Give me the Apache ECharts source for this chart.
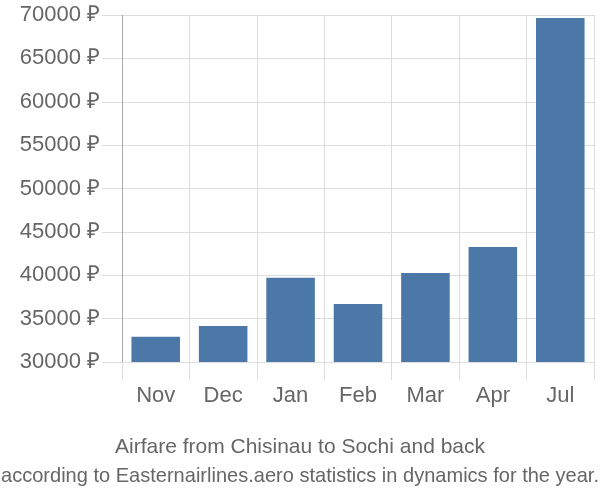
<!DOCTYPE html>
<html><head><meta charset="utf-8">
<script src="https://cdn.jsdelivr.net/npm/echarts@6/dist/echarts.min.js"></script>
<style>html,body{margin:0;padding:0;background:#fff}#c{width:600px;height:500px}</style>
</head><body><div id="c"></div>
<script>
const categories = ['Nov','Dec','Jan','Feb','Mar','Apr','Jul'];
const prices = [32900, 34150, 39700, 36700, 40250, 43250, 69650];
const titleText = 'Airfare from Chisinau to Sochi and back';
const subtitleText = 'according to Easternairlines.aero statistics in dynamics for the year.';

const subFont = '21px "Liberation Sans"';
const cv = document.createElement('canvas').getContext('2d');
cv.font = subFont;
const subScale = Math.min(1, 598 / cv.measureText(subtitleText).width);

const chart = echarts.init(document.getElementById('c'), null, {renderer:'canvas'});
chart.setOption({
  animation: false,
  title: {
    text: titleText,
    left: 'center', top: 432,
    textStyle: {fontFamily: 'Liberation Sans', fontSize: 21, fontWeight: 'normal', color: '#666'}
  },
  grid: {left: 122, right: 6, top: 15, bottom: 138},
  xAxis: {
    type: 'category', data: categories,
    axisLine: {show: false},
    axisTick: {show: true, length: 18, lineStyle: {color: '#ddd'}},
    splitLine: {show: true, lineStyle: {color: '#ddd'}},
    axisLabel: {fontFamily: 'Liberation Sans', fontSize: 22, color: '#666', margin: 23}
  },
  yAxis: {
    type: 'value', min: 30000, max: 70000, interval: 5000,
    axisLine: {show: true, lineStyle: {color: '#aaa'}},
    axisTick: {show: true, length: 20, lineStyle: {color: '#ddd'}},
    splitLine: {show: true, lineStyle: {color: '#ddd'}},
    axisLabel: {fontFamily: 'Liberation Sans', fontSize: 22, color: '#666', margin: 22,
      formatter: v => v + ' ₽'}
  },
  series: [{
    type: 'bar', data: prices, barCategoryGap: '28%',
    itemStyle: {color: '#4c78a8'}
  }]
});
const rect = chart.getModel().getComponent('grid').coordinateSystem.getRect();
chart.setOption({
  graphic: [{
    type: 'text', x: 300, y: 476, scaleX: subScale,
    style: {text: subtitleText, font: subFont, fill: '#666', align: 'center', verticalAlign: 'middle'}
  }, {
    type: 'line', shape: {x1: rect.x + 0.5, y1: rect.y + rect.height, x2: rect.x + 0.5, y2: rect.y + rect.height + 18},
    style: {stroke: '#aaa', lineWidth: 1}
  }]
});
</script></body></html>
